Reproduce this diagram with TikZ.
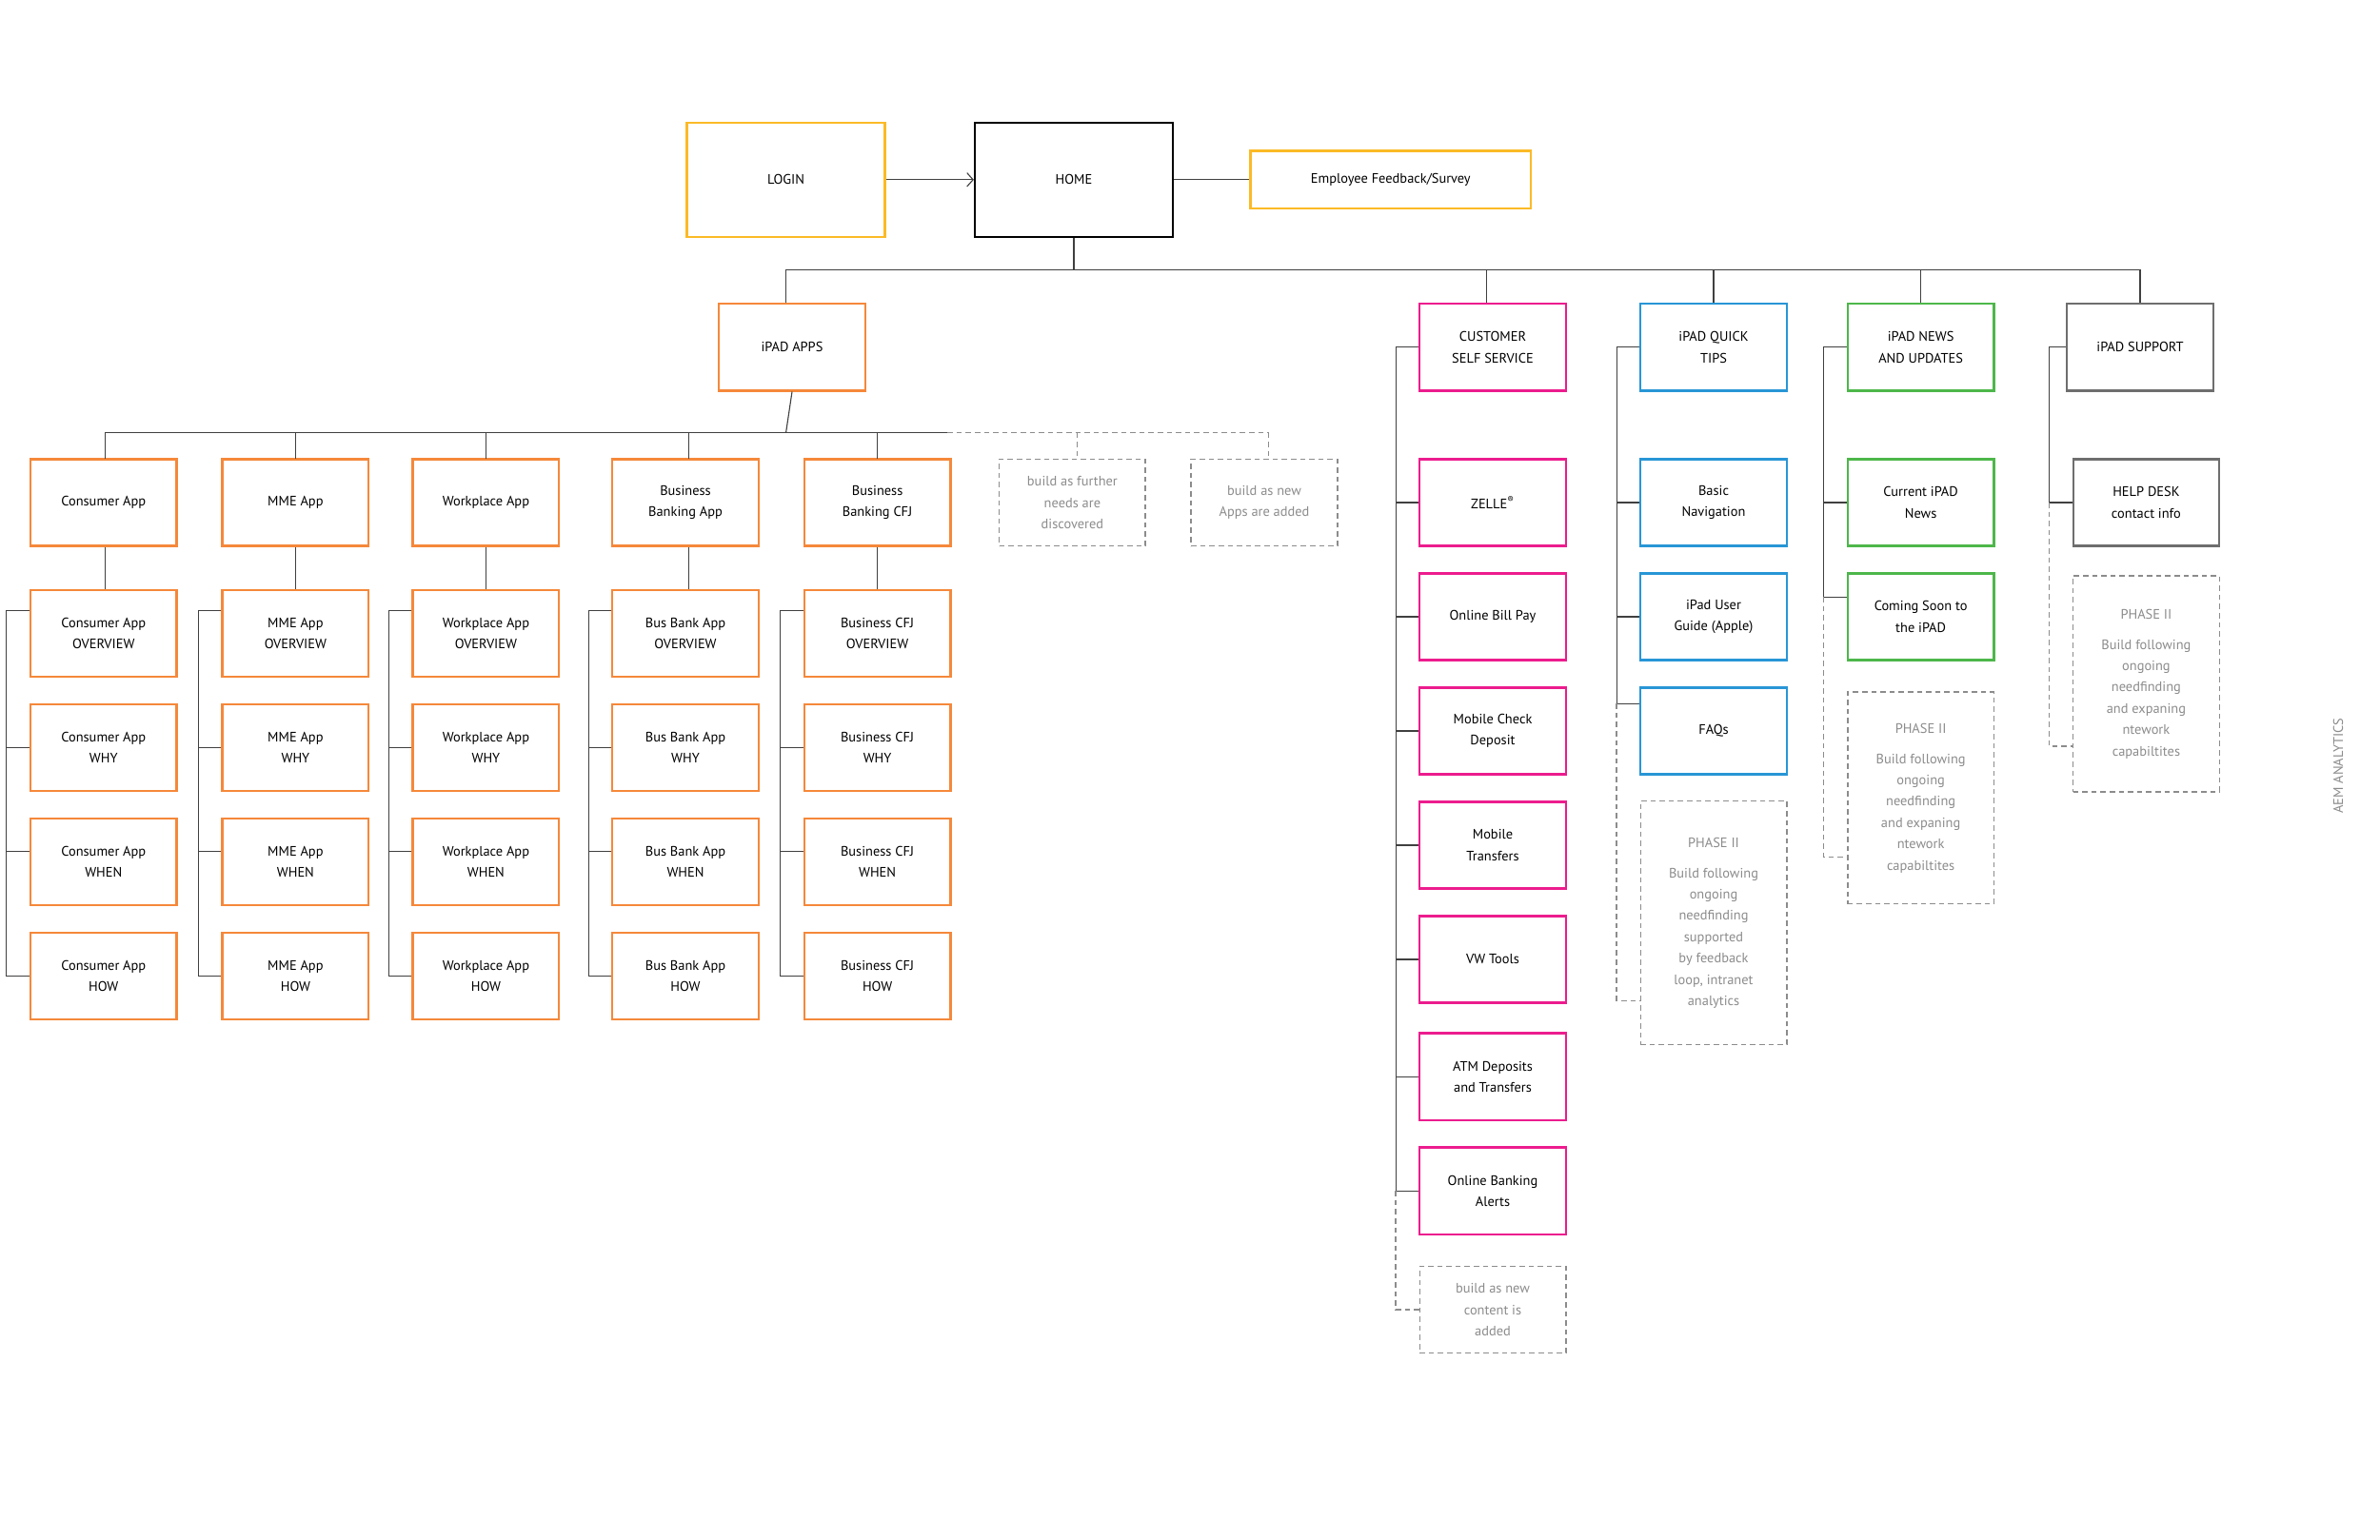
\documentclass[tikz,border=0pt]{standalone}
\usepackage{fontspec}
\setmainfont{PT Sans}
\usetikzlibrary{arrows.meta}
\begin{document}
\begin{tikzpicture}[x=1pt,y=-1pt,
  bx/.style={draw,line width=1.4pt,minimum width=96pt,minimum height=57pt,inner sep=1pt,align=center,font=\fontsize{9}{14}\selectfont},
  ob/.style={bx,draw=cOr},
  mg/.style={bx,draw=cMg},
  bl/.style={bx,draw=cBl},
  gr/.style={bx,draw=cGr},
  gy/.style={bx,draw=cGy},
  db/.style={bx,draw=cDs,line width=0.9pt,dash pattern=on 3.5pt off 2.5pt,text=cDs},
  ln/.style={draw=black!75,line width=0.7pt},
  dl/.style={draw=cDs,line width=0.8pt,dash pattern=on 3.5pt off 2.5pt}]
\definecolor{cOr}{HTML}{F5883A}
\definecolor{cYe}{HTML}{FBBA26}
\definecolor{cMg}{HTML}{EC1C8E}
\definecolor{cBl}{HTML}{2896D6}
\definecolor{cGr}{HTML}{4DB74A}
\definecolor{cGy}{HTML}{6E6E6E}
\definecolor{cDs}{HTML}{8C8C8C}
\useasboundingbox[fill=white] (0,0) rectangle (1562.5,1011.25);
% top
\node[bx,draw=cYe,minimum width=130pt,minimum height=75pt] (login) at (516,118) {LOGIN};
\node[bx,draw=black,minimum width=130pt,minimum height=75pt] (home) at (705,118) {HOME};
\node[bx,draw=cYe,minimum width=184pt,minimum height=38pt] (fb) at (913,118) {Employee Feedback/Survey};
\draw[ln,-{Straight Barb[length=4pt,width=9pt]}] (login) -- (home);
\draw[ln] (home) -- (fb);
\coordinate (top) at (705,177);
\draw[ln] (home.south) -- (top);
% level 1
\node[ob] (apps) at (520,228) {iPAD APPS};
\node[mg] (css) at (980,228) {CUSTOMER\\SELF SERVICE};
\node[bl] (qt) at (1125,228) {iPAD QUICK\\TIPS};
\node[gr] (nw) at (1261,228) {iPAD NEWS\\AND UPDATES};
\node[gy] (sp) at (1405,228) {iPAD SUPPORT};
\draw[ln] (516,199) |- (1405,177) -- (sp.north);
\draw[ln] (976,177) -- (976,199);
\draw[ln] (qt.north) -- (qt.north|-top);
\draw[ln] (nw.north) -- (nw.north|-top);
% apps
\coordinate (busA) at (516,284);
\draw[ln] (apps.south) -- (busA);
\draw[ln] (69,284) -- (622,284);
\draw[dl] (622,284) -- (833,284);
\foreach \c/\x/\t/\p/\q in {1/68/Consumer App/Consumer App/69,2/194/MME App/MME App/194,3/319/Workplace App/Workplace App/319,4/450/{Business\\Banking App}/Bus Bank App/452,5/576/{Business\\Banking CFJ}/Business CFJ/576}{
  \node[ob] (a\c) at (\x,330) {\t};
  \node[ob] (a\c o) at (\x,416) {\p\\OVERVIEW};
  \node[ob] (a\c w) at (\x,491) {\p\\WHY};
  \node[ob] (a\c n) at (\x,566) {\p\\WHEN};
  \node[ob] (a\c h) at (\x,641) {\p\\HOW};
  \draw[ln] (\q,284) -- (\q,301);
  \draw[ln] (a\c.south-|\q,0) -- (a\c o.north-|\q,0);
  \draw[ln] ([yshift=15pt]a\c o.west) -- ++(-15,0) |- (a\c h.west);
  \draw[ln] (a\c w.west) -- ++(-15,0);
  \draw[ln] ([yshift=7pt]a\c n.west) -- ++(-15,0);
}
\node[db] (d1) at (704,330) {build as further\\needs are\\discovered};
\node[db] (d2) at (830,330) {build as new\\Apps are added};
\draw[dl] (707,284) -- (d1.north-|707,0);
\draw[dl] (833,284) -- (d2.north-|833,0);
% customer self service
\node[mg] (c1) at (980,330) {ZELLE\textsuperscript{®}};
\node[mg] (c2) at (980,405) {Online Bill Pay};
\node[mg] (c3) at (980,480) {Mobile Check\\Deposit};
\node[mg] (c4) at (980,555) {Mobile\\Transfers};
\node[mg] (c5) at (980,630) {VW Tools};
\node[mg] (c6) at (980,707) {ATM Deposits\\and Transfers};
\node[mg] (c7) at (980,782) {Online Banking\\Alerts};
\node[db] (c8) at (980,860) {build as new\\content is\\added};
\draw[ln] (css.west) -- ++(-15,0) |- (c7.west);
\foreach \n in {c1,c2,c3,c4,c5,c6}{\draw[ln] (\n.west) -- ++(-15,0);}
\draw[dl] ([xshift=-15pt]c7.west) |- (c8.west);
% quick tips
\node[bl] (q1) at (1125,330) {Basic\\Navigation};
\node[bl] (q2) at (1125,405) {iPad User\\Guide (Apple)};
\node[bl] (q3) at (1125,480) {FAQs};
\node[db,minimum height=160pt] (q4) at (1125,606) {PHASE II\\[6pt]Build following\\ongoing\\needfinding\\supported\\by feedback\\loop, intranet\\analytics};
\draw[ln] (qt.west) -- ++(-15,0) |- ([yshift=18pt]q3.west);
\draw[ln] (q1.west) -- ++(-15,0);
\draw[ln] (q2.west) -- ++(-15,0);
\draw[dl] ([xshift=-15pt,yshift=18pt]q3.west) |- ([yshift=-51pt]q4.west);
% news
\node[gr] (n1) at (1261,330) {Current iPAD\\News};
\node[gr] (n2) at (1261,405) {Coming Soon to\\the iPAD};
\node[db,minimum height=139pt] (n3) at (1261,524) {PHASE II\\[6pt]Build following\\ongoing\\needfinding\\and expaning\\ntework\\capabiltites};
\draw[ln] (nw.west) -- ++(-15,0) |- ([yshift=13pt]n2.west);
\draw[ln] (n1.west) -- ++(-15,0);
\draw[dl] ([xshift=-15pt,yshift=13pt]n2.west) |- ([yshift=-39pt]n3.west);
% support
\node[gy] (s1) at (1409,330) {HELP DESK\\contact info};
\node[db,minimum height=142pt] (s2) at (1409,449) {PHASE II\\[6pt]Build following\\ongoing\\needfinding\\and expaning\\ntework\\capabiltites};
\draw[ln] (sp.west) -- ++(-11,0) |- (s1.west);
\draw[dl] ([xshift=-15pt]s1.west) |- ([yshift=-41pt]s2.west);
\node[rotate=90,text=cDs,font=\fontsize{9}{11}\selectfont] (aem) at (1535,503) {AEM ANALYTICS};
\end{tikzpicture}
\end{document}
